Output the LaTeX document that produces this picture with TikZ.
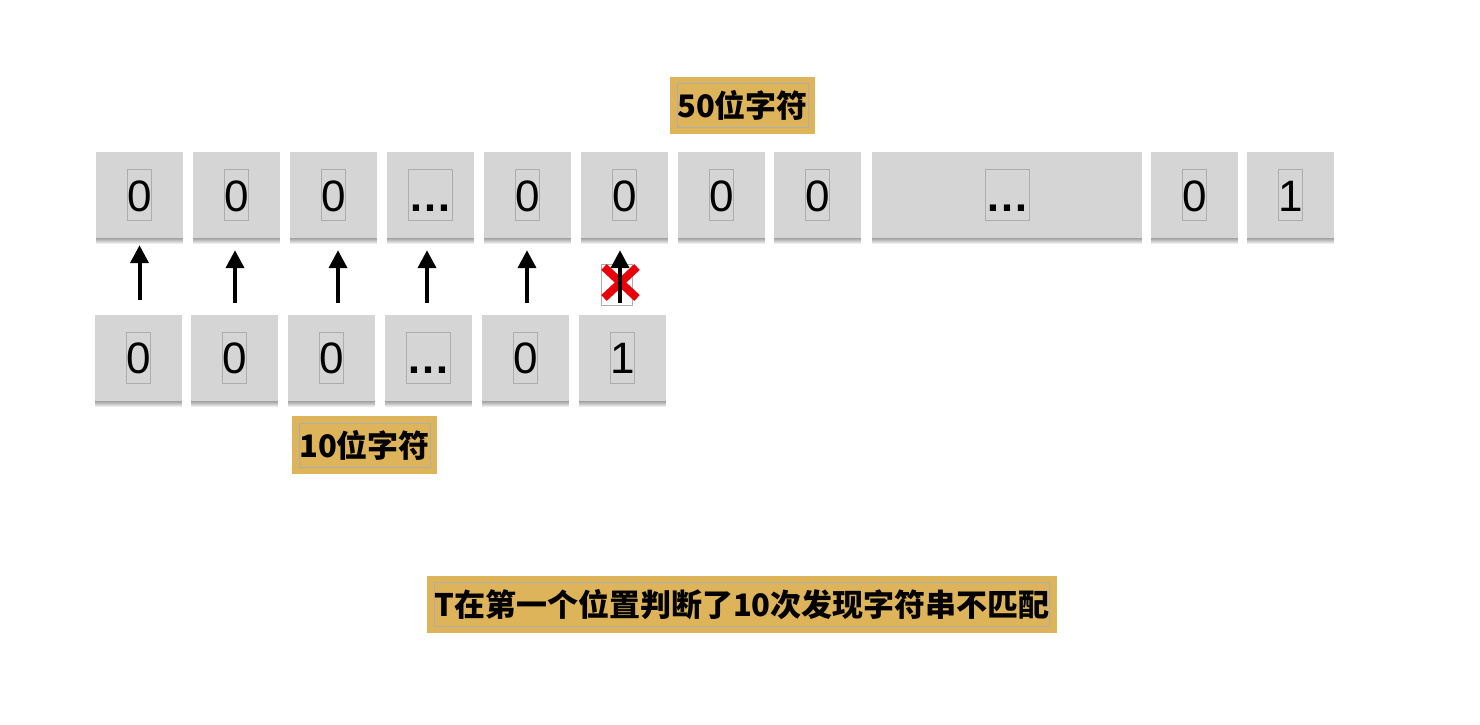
\documentclass[tikz,border=0pt]{standalone}
\usepackage{fontspec}
\setmainfont{Liberation Sans}
\newfontfamily\cjk{Noto Sans CJK SC}
\usetikzlibrary{arrows.meta,calc}
\definecolor{cellgray}{HTML}{D5D5D5}
\definecolor{gold}{HTML}{DEB45B}
\definecolor{outl}{HTML}{ADADAD}
\definecolor{xred}{HTML}{E8000B}
\begin{document}
\begin{tikzpicture}[x=1pt,y=-1pt,
  shd/.style={preaction={fill=black, fill opacity=0.07, transform canvas={yshift=-#1pt}}},
  cell/.style={rectangle, fill=cellgray, minimum width=87pt, minimum height=86pt, inner sep=0pt,
    shd=1, shd=2, shd=3, shd=4, shd=5, shd=6},
  glyph/.style={draw=outl, line width=0.7pt, inner sep=0pt, text height=32pt, text depth=0pt,
    minimum height=51pt, font=\fontsize{44}{48}\selectfont},
  dots/.style={glyph, font=\bfseries\fontsize{44}{48}\selectfont},
  goldbox/.style={rectangle, fill=gold, inner sep=0pt, minimum height=57pt},
  goldtext/.style={draw=outl, line width=0.7pt, inner sep=0pt, minimum height=44pt,
    font=\cjk\bfseries\fontsize{31}{34}\selectfont},
  arr/.style={line width=4pt, -{Triangle[width=18pt,length=18pt]}, shorten <=11pt, shorten >=12pt},
  xstroke/.style={draw=xred, line width=8pt}
]
\useasboundingbox (0,0) rectangle (1480,724);
\fill[white] (0,0) rectangle (1480,724);

% top row
\foreach \n/\x/\t in {1/139.5/0, 2/236.5/0, 3/333.5/0, 5/527.5/0, 6/624.5/0, 7/721.5/0, 8/817.5/0, 10/1194.5/0, 11/1290.5/1}{
  \node[cell] (t\n) at (\x,195) {};
  \node[glyph] (tg\n) at (t\n) {\t};
}
\node[cell] (t4) at (430.5,195) {};
\node[dots] (tg4) at (t4) {…};
\node[cell, minimum width=270pt] (t9) at (1007,195) {};
\node[dots] (tg9) at (t9) {…};

% bottom row
\foreach \n/\x/\t in {1/138.5/0, 2/234.5/0, 3/331.5/0, 5/525.5/0, 6/622.5/1}{
  \node[cell] (b\n) at (\x,357.5) {};
  \node[glyph] (bg\n) at (b\n) {\t};
}
\node[cell] (b4) at (428.5,357.5) {};
\node[dots] (bg4) at (b4) {…};

% labels
\node[goldbox, minimum width=145pt] (g50) at (742.5,105.5) {};
\node[goldtext, minimum width=129pt] (l50) at (g50) {50位字符};
\node[goldbox, minimum width=145pt, minimum height=58pt] (g10) at (364.5,445) {};
\node[goldtext, minimum width=129pt] (l10) at (g10) {10位字符};
\node[goldbox, minimum width=630pt] (gT) at (742,604.5) {};
\node[goldtext, minimum width=614pt] (lT) at (gT) {T在第一个位置判断了10次发现字符串不匹配};

% red cross
\node[draw=outl, line width=0.7pt, minimum width=31pt, minimum height=41pt, inner sep=0pt] (xm) at (616.5,284.5) {};
\draw[xstroke] (604,267) -- (637,298);
\draw[xstroke] (604,298) -- (637,267);

% arrows
\draw[arr] ($(b1.north)+(1,-3)$) -- ($(b1.north |- t1.south)+(1,-5)$);
\draw[arr] ($(b2.north)+(0.5,0)$) -- ($(b2.north |- t2.south)+(0.5,0)$);
\draw[arr] ($(b3.north)+(6.5,0)$) -- ($(b3.north |- t3.south)+(6.5,0)$);
\draw[arr] ($(b4.north)+(-1.5,0)$) -- ($(b4.north |- t4.south)+(-1.5,0)$);
\draw[arr] ($(b5.north)+(1.5,0)$) -- ($(b5.north |- t5.south)+(1.5,0)$);
\draw[arr] ($(b6.north)+(-2.5,0)$) -- ($(b6.north |- t6.south)+(-2.5,0)$);
\end{tikzpicture}
\end{document}
